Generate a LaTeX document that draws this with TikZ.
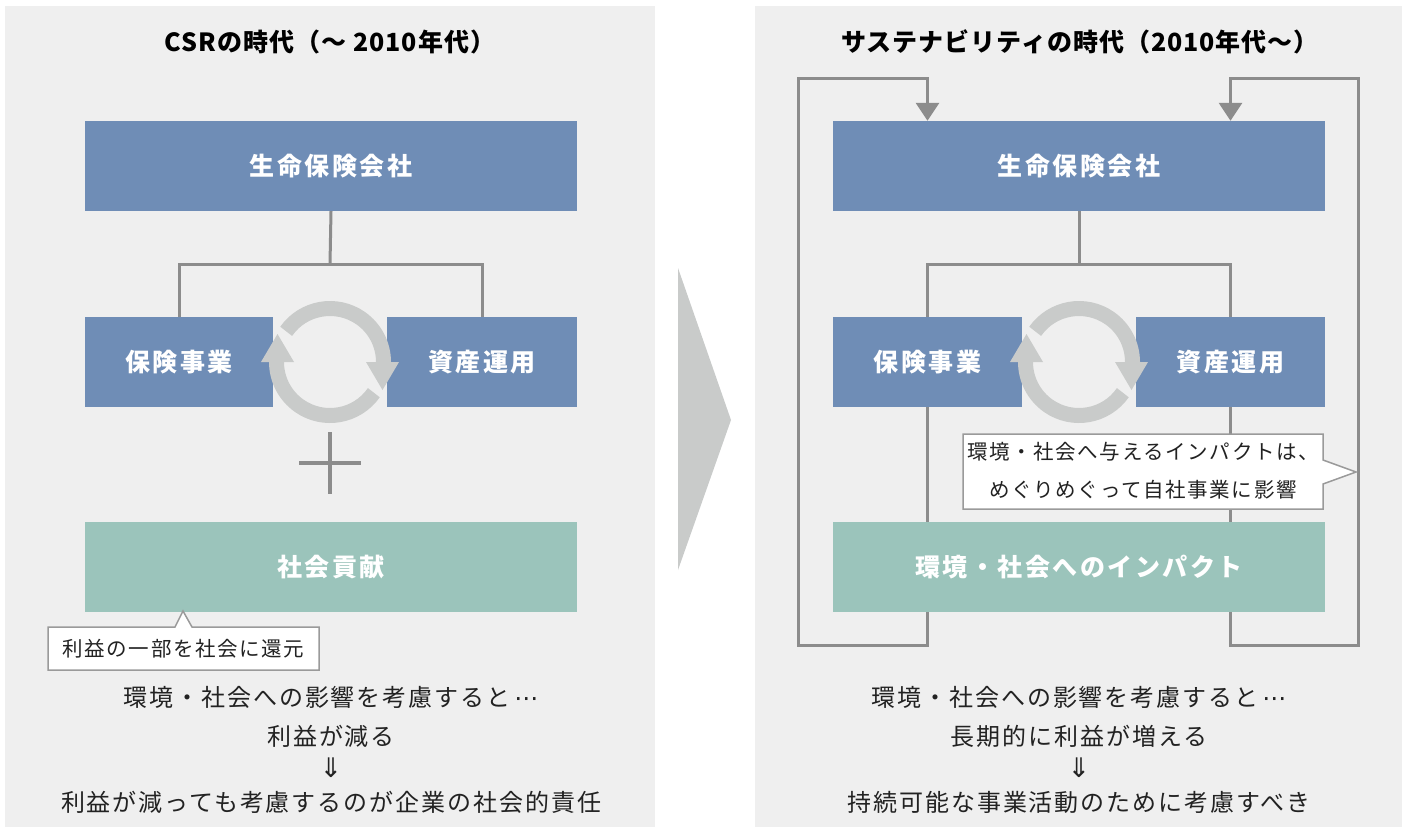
\documentclass[tikz,border=0pt]{standalone}
\usepackage{fontspec}
\setmainfont{Noto Sans CJK JP}
\newfontfamily\djv{DejaVu Sans}
\usetikzlibrary{arrows.meta,calc}
\definecolor{panelbg}{HTML}{EFEFEF}
\definecolor{boxblue}{HTML}{6F8DB6}
\definecolor{boxgreen}{HTML}{9BC4BB}
\definecolor{linegray}{HTML}{8C8C8C}
\definecolor{cycgray}{HTML}{C9CBCA}
\definecolor{textdark}{HTML}{222222}
\definecolor{calloutbd}{HTML}{9A9A9A}
\newcommand\myboxfont{\fontsize{25}{30}\selectfont\bfseries\addfontfeatures{LetterSpace=10}}
\newcommand\mytitlefont{\fontsize{25}{30}\selectfont\bfseries\addfontfeatures{LetterSpace=4}}
\newcommand\mybodyfont{\fontsize{24}{28}\selectfont\addfontfeatures{LetterSpace=8}}
\newcommand\mycallfont{\fontsize{20.5}{38}\selectfont\addfontfeatures{LetterSpace=8}}
\newcommand\myell{\,{\djv ⋯}}
\tikzset{
  boxnode/.style={minimum width=#1, minimum height=90, inner sep=0, text=white, font=\myboxfont},
  bluebox/.style={boxnode=#1, fill=boxblue},
  greenbox/.style={boxnode=#1, fill=boxgreen},
  conn/.style={draw=linegray, line width=3pt},
  loopconn/.style={conn, -{Triangle[width=23pt,length=18pt]}},
  cyc/.style={draw=cycgray, line width=15pt},
  cyctip/.style={fill=cycgray},
  callout/.style={fill=white, draw=calloutbd, line width=1.5pt, line join=miter},
  titletext/.style={text=black, font=\mytitlefont, inner sep=0},
  bodytext/.style={text=textdark, font=\mybodyfont, inner sep=0},
  arrowtext/.style={text=textdark, font=\fontsize{27}{30}\selectfont\djv, inner sep=0},
  calltext/.style={text=textdark, font=\mycallfont, inner sep=0, align=center},
}
\begin{document}
\begin{tikzpicture}[x=1pt,y=-1pt]
\useasboundingbox (0,0) rectangle (1407,827);
% panels
\fill[panelbg] (5,6) rectangle (655,827);
\fill[panelbg] (755,6) rectangle (1402,827);
% big arrow
\fill[cycgray] (678,268) -- (731,420) -- (678,570) -- cycle;

% titles
\node[titletext] (tl) at (330,42) {CSRの時代（～ 2010年代）};
\node[titletext] (tr) at (1080,42) {サステナビリティの時代（2010年代～）};

% ---------- left ----------
\node[bluebox=492] (L1) at (331,166) {生命保険会社};
\node[bluebox=188] (Lh) at (179,362) {保険事業};
\node[bluebox=190] (La) at (482,362) {資産運用};
\node[greenbox=492] (LG) at (331,567) {社会貢献};
\coordinate (LJ) at (330,264);
\draw[conn] (L1.south) -- (LJ);
\draw[conn] (Lh.north) |- (LJ) -| (La.north);
% cycle left
\coordinate (LC) at (330,362);
\draw[cyc] ($(LC)+(215:53.5)$) arc[start angle=215, end angle=360, radius=53.5];
\fill[cyctip] ($(LC)+(36,0)$) -- ++(33,0) -- ++(-16.5,28) -- cycle;
\draw[cyc] ($(LC)+(35:53.5)$) arc[start angle=35, end angle=180, radius=53.5];
\fill[cyctip] ($(LC)+(-69,0)$) -- ++(33,0) -- ++(-16.5,-28) -- cycle;
% plus
\draw[draw=linegray, line width=4pt] (299,463) -- (361,463);
\draw[draw=linegray, line width=4pt] (330,432) -- (330,494);
% callout left
\draw[callout] (48,627) -- (175,627) -- (183,611) -- (192,627) -- (319,627) -- (319,670) -- (48,670) -- cycle;
\node[calltext] (cl) at (183.5,649) {利益の一部を社会に還元};
% bottom text left
\node[bodytext] (lb1) at (331,697) {環境・社会への影響を考慮すると\myell};
\node[bodytext] (lb2) at (331,736) {利益が減る};
\node[arrowtext] (lb3) at (331,768) {⇓};
\node[bodytext] (lb4) at (331,802) {利益が減っても考慮するのが企業の社会的責任};

% ---------- right ----------
\node[bluebox=492] (R1) at (1079,166) {生命保険会社};
\node[bluebox=189] (Rh) at (927.5,362) {保険事業};
\node[bluebox=189] (Ra) at (1230.5,362) {資産運用};
\coordinate (RJ) at (1079,264);
\draw[conn] (R1.south) -- (RJ);
\draw[conn] (Rh.north) |- (RJ) -| (Ra.north);
\draw[conn] (Rh.south) -- (Rh.south |- 0,522);
\draw[conn] (Ra.south) -- (Ra.south |- 0,522);
\node[greenbox=492] (RG) at (1079,567) {環境・社会へのインパクト};
% cycle right
\coordinate (RC) at (1079,362);
\draw[cyc] ($(RC)+(215:53.5)$) arc[start angle=215, end angle=360, radius=53.5];
\fill[cyctip] ($(RC)+(36,0)$) -- ++(33,0) -- ++(-16.5,28) -- cycle;
\draw[cyc] ($(RC)+(35:53.5)$) arc[start angle=35, end angle=180, radius=53.5];
\fill[cyctip] ($(RC)+(-69,0)$) -- ++(33,0) -- ++(-16.5,-28) -- cycle;
% loops
\coordinate (BL) at (798,645);
\coordinate (TL) at (798,78);
\coordinate (BR) at (1358,645);
\coordinate (TR) at (1358,78);
\draw[loopconn] (Rh.south |- RG.south) |- (BL) -- (TL) -| (Rh.north |- R1.north);
\draw[loopconn] (Ra.south |- RG.south) |- (BR) -- (TR) -| (Ra.north |- R1.north);
% callout right
\draw[callout] (963,434) -- (1323,434) -- (1323,460) -- (1356,472) -- (1323,484) -- (1323,509) -- (963,509) -- cycle;
\node[calltext] (cr) at (1143,471) {環境・社会へ与えるインパクトは、\\めぐりめぐって自社事業に影響};
% bottom text right
\node[bodytext] (rb1) at (1079,697) {環境・社会への影響を考慮すると\myell};
\node[bodytext] (rb2) at (1079,736) {長期的に利益が増える};
\node[arrowtext] (rb3) at (1079,768) {⇓};
\node[bodytext] (rb4) at (1079,802) {持続可能な事業活動のために考慮すべき};
\end{tikzpicture}
\end{document}
